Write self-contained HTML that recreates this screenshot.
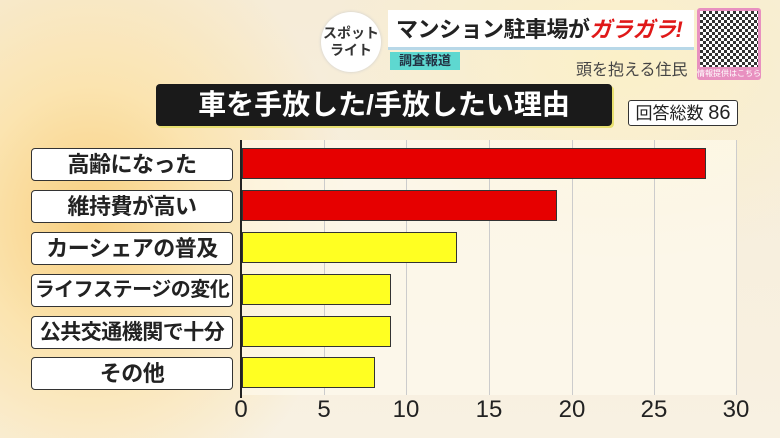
<!DOCTYPE html>
<html><head><meta charset="utf-8"><style>
body{margin:0;width:780px;height:438px;overflow:hidden;font-family:"Liberation Sans","Noto Sans CJK JP",sans-serif;}
#bg{position:absolute;left:0;top:0;width:780px;height:438px;background:radial-gradient(ellipse 260px 300px at 90px 220px,#f8cf80 0%,#fbe4b0 45%,rgba(250,240,215,0) 100%),radial-gradient(ellipse 300px 200px at 620px 60px,#fbf0c8 0%,rgba(0,0,0,0) 100%),linear-gradient(#f6ecd8,#f8f1e2);}
.abs{position:absolute}
.lab{position:absolute;left:31px;width:200px;height:31px;background:#fff;border:1.5px solid #333;border-radius:4px;font-size:22px;font-weight:bold;color:#222;text-align:center;line-height:31px;white-space:nowrap;letter-spacing:-0.5px}
.bar{position:absolute;left:242px;height:31px;border:1.5px solid #333;box-sizing:border-box}
.r{background:#e60000}.y{background:#ffff22}
.grid{position:absolute;top:140px;height:255px;width:1px;background:#ccc}
.tick{position:absolute;top:396px;font-size:24px;color:#222;width:40px;text-align:center}
</style></head><body>
<div id="bg"></div>
<div class="abs" style="left:241px;top:140px;width:496px;height:255px;background:rgba(255,252,240,0.6)"></div>
<div class="grid" style="left:324px"></div><div class="grid" style="left:406px"></div><div class="grid" style="left:489px"></div><div class="grid" style="left:572px"></div><div class="grid" style="left:654px"></div><div class="grid" style="left:736px"></div>
<div class="abs" style="left:240px;top:140px;width:2px;height:258px;background:#222"></div>
<div class="bar r" style="top:148px;width:464px"></div>
<div class="bar r" style="top:190px;width:315px"></div>
<div class="bar y" style="top:232px;width:215px"></div>
<div class="bar y" style="top:274px;width:149px"></div>
<div class="bar y" style="top:316px;width:149px"></div>
<div class="bar y" style="top:357px;width:133px"></div>
<div class="lab" style="top:148px">高齢になった</div>
<div class="lab" style="top:190px">維持費が高い</div>
<div class="lab" style="top:232px">カーシェアの普及</div>
<div class="lab" style="top:274px;font-size:20px">ライフステージの変化</div>
<div class="lab" style="top:316px;font-size:21px">公共交通機関で十分</div>
<div class="lab" style="top:357px">その他</div>
<div class="tick" style="left:221px">0</div><div class="tick" style="left:304px">5</div><div class="tick" style="left:386px">10</div><div class="tick" style="left:469px">15</div><div class="tick" style="left:552px">20</div><div class="tick" style="left:634px">25</div><div class="tick" style="left:716px">30</div>
<div class="abs" style="left:156px;top:84px;width:456px;height:42px;background:#1a1a1a;border-radius:4px;box-shadow:2px 2px 0 #e8e070;color:#fff;font-size:28px;font-weight:bold;line-height:42px;text-align:center;white-space:nowrap">車を手放した/手放したい理由</div>
<div class="abs" style="left:628px;top:100px;width:108px;height:24px;background:#fff;border:1.5px solid #333;border-radius:3px;font-size:17px;line-height:24px;text-align:center;color:#222;white-space:nowrap">回答総数 <span style="font-size:20px">86</span></div>
<div class="abs" style="left:321px;top:12px;width:60px;height:60px;border-radius:50%;background:#fff;box-shadow:0 0 3px #ccc;font-size:14px;line-height:17px;text-align:center;padding-top:13px;box-sizing:border-box;color:#333;font-weight:bold">スポット<br>ライト</div>
<div class="abs" style="left:388px;top:10px;width:306px;height:40px;background:#fff;border-bottom:3px solid #b8d8e8;font-size:22px;font-weight:bold;line-height:40px;padding-left:8px;box-sizing:border-box;white-space:nowrap;color:#222;letter-spacing:-0.5px">マンション駐車場が<span style="color:#e01818;font-style:italic">ガラガラ!</span></div>
<div class="abs" style="left:390px;top:52px;width:70px;height:18px;background:#5ed8d0;font-size:13px;font-weight:bold;line-height:18px;text-align:center;color:#234">調査報道</div>
<div class="abs" style="left:576px;top:56px;font-size:16px;color:#444;white-space:nowrap">頭を抱える住民</div>
<div class="abs" style="left:697px;top:8px;width:64px;height:72px;background:#e890c0;border-radius:3px"></div>
<div class="abs" style="left:700px;top:11px;width:58px;height:56px;background:repeating-conic-gradient(#333 0 25%,#fff 0 50%) 0 0/6px 6px"></div>
<div class="abs" style="left:697px;top:68px;width:64px;font-size:8px;color:#fff;text-align:center;white-space:nowrap">情報提供はこちら</div>
</body></html>
